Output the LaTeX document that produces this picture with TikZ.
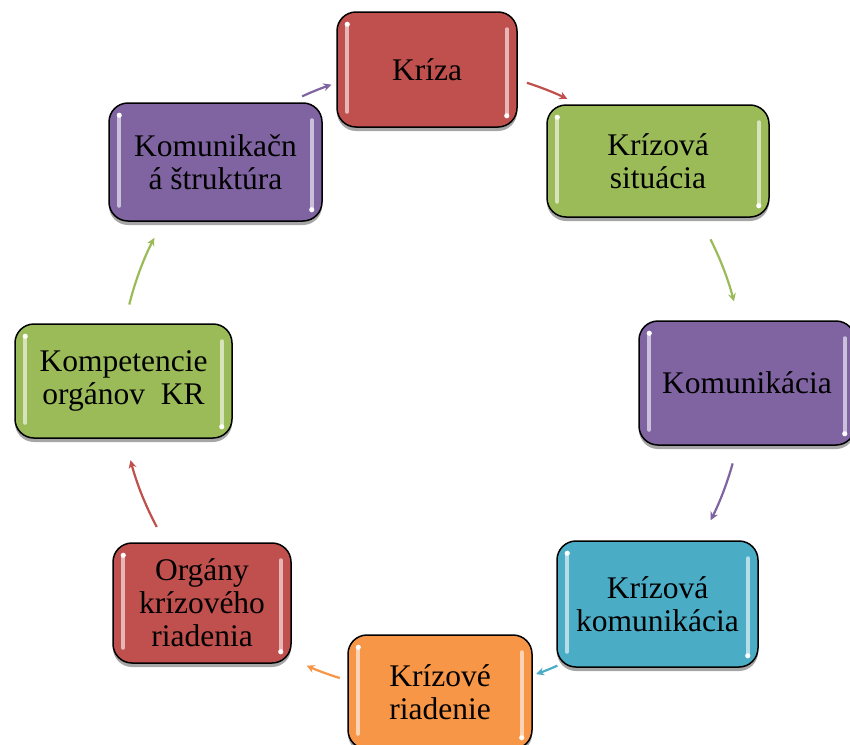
\documentclass[tikz,border=0pt]{standalone}
\usepackage{fontspec}
\setmainfont{Liberation Serif}
\usetikzlibrary{arrows.meta,shadows,calc}
\definecolor{cred}{HTML}{C0504D}
\definecolor{cgreen}{HTML}{9BBB59}
\definecolor{cpurple}{HTML}{8064A2}
\definecolor{cblue}{HTML}{4BACC6}
\definecolor{corange}{HTML}{F79646}
\tikzset{
  boxst/.style={draw=black, line width=1.5pt, rounded corners=19pt, align=center,
    inner sep=2pt, font=\fontsize{31.5}{33}\selectfont,
    drop shadow={shadow xshift=0pt, shadow yshift=-4pt, opacity=0.35, fill=black}},
  hl/.style={draw=#1!30!white, line width=4pt, line cap=round, opacity=0.85},
  hldot/.style={fill=white},
  arr/.style={draw=#1, line width=2.2pt, -{Stealth[length=8pt,width=8pt]}}
}
\newcommand\mybox[7]{%
  \node[boxst, fill=#6, minimum width=#4pt, minimum height=#5pt] (#1) at (#2,#3) {#7};
  \draw[hl=#6] ([xshift=11pt,yshift=-13pt]#1.north west) -- ([xshift=11pt,yshift=16pt]#1.south west);
  \fill[hldot] ([xshift=11pt,yshift=-13pt]#1.north west) circle[radius=2.6pt];
  \draw[hl=#6] ([xshift=-11pt,yshift=-18pt]#1.north east) -- ([xshift=-11pt,yshift=12pt]#1.south east);
  \fill[hldot] ([xshift=-11pt,yshift=12pt]#1.south east) circle[radius=2.6pt];
}
\begin{document}
\begin{tikzpicture}[x=1pt,y=-1pt]
\clip (0,0) rectangle (850,744);
\fill[white] (0,0) rectangle (850,744);
\mybox{b1}{427}{69.5}{180}{115}{cred}{Kríza}
\mybox{b2}{658}{161}{222}{112}{cgreen}{Krízová\\situácia}
\mybox{b3}{747}{383}{216}{124}{cpurple}{Komunikácia}
\mybox{b4}{657.5}{604}{201}{126}{cblue}{Krízová\\komunikácia}
\mybox{b5}{440}{692}{184}{114}{corange}{Krízové\\riadenie}
\mybox{b6}{202}{603}{178}{120}{cred}{Orgány\\krízového\\riadenia}
\mybox{b7}{123.5}{381}{217}{114}{cgreen}{Kompetencie\\orgánov~ KR}
\mybox{b8}{215.5}{162}{213}{118}{cpurple}{Komunikačn\\á štruktúra}
\coordinate (cen) at (432,380);
\coordinate (a1) at ($(cen)+(-72.3:312)$);
\coordinate (a2) at ($(cen)+(-26.8:312)$);
\coordinate (a3) at ($(cen)+(15.5:312)$);
\coordinate (a4) at ($(cen)+(66.3:312)$);
\coordinate (a5) at ($(cen)+(107.2:312)$);
\coordinate (a6) at ($(cen)+(151.9:312)$);
\coordinate (a7) at ($(cen)+(194.0:312)$);
\coordinate (a8) at ($(cen)+(245.4:312)$);
\draw[arr=cred] (a1) arc[start angle=-72.3, end angle=-64.3, radius=312];
\draw[arr=cgreen] (a2) arc[start angle=-26.8, end angle=-14.6, radius=312];
\draw[arr=cpurple] (a3) arc[start angle=15.5, end angle=26.7, radius=312];
\draw[arr=cblue] (a4) arc[start angle=66.3, end angle=70.5, radius=312];
\draw[arr=corange] (a5) arc[start angle=107.2, end angle=113.7, radius=312];
\draw[arr=cred] (a6) arc[start angle=151.9, end angle=165.1, radius=312];
\draw[arr=cgreen] (a7) arc[start angle=194.0, end angle=207.1, radius=312];
\draw[arr=cpurple] (a8) arc[start angle=245.4, end angle=251.2, radius=312];
\end{tikzpicture}
\end{document}
